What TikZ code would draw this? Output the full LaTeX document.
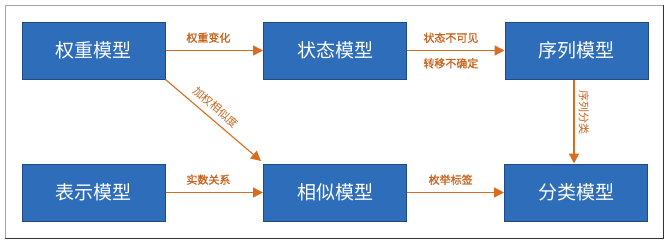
\documentclass[tikz,border=0pt]{standalone}
\usepackage{fontspec}
\newfontfamily\cjk{Noto Sans CJK SC}
\newfontfamily\cjklab[FakeBold=1.2]{Noto Sans CJK SC}
\usetikzlibrary{arrows.meta}
\definecolor{boxfill}{HTML}{2E6DB9}
\definecolor{boxline}{HTML}{1F4A86}
\definecolor{arr}{HTML}{DA6C20}
\definecolor{lab}{HTML}{C8641F}
\tikzset{
  model/.style={draw=boxline, line width=1pt, fill=boxfill, minimum width=143pt, minimum height=57pt, inner sep=0pt, text=white, font=\cjk\fontsize{19}{19}\selectfont},
  conn/.style={draw=arr, line width=1.4pt, -{Triangle[length=10pt,width=10pt]}},
  lbl/.style={text=lab, font=\cjklab\fontsize{11}{11}\selectfont, inner sep=0pt},
  rlbl/.style={text=lab, font=\cjk\fontsize{11}{11}\selectfont, inner sep=0pt}
}
\begin{document}
\begin{tikzpicture}[x=1pt,y=-1pt]
\useasboundingbox (0,0) rectangle (671,244);
\draw[gray!70, line width=1pt] (5,5) rectangle (663,238);
\draw[black!80, line width=1pt] (5,238) -- (663,238) -- (663,5);
\node[model] (w) at (93.5,50.5) {权重模型};
\node[model] (s) at (335,50.5) {状态模型};
\node[model] (q) at (576.5,50.5) {序列模型};
\node[model] (r) at (93.5,192.5) {表示模型};
\node[model] (x) at (335,192.5) {相似模型};
\node[model] (c) at (576,192.5) {分类模型};
\coordinate (dtip) at (261,161);
\draw[conn] (w) -- node[lbl, pos=0.44, above=7pt] {权重变化} (s);
\draw[conn] (s) -- node[lbl, pos=0.45, above=7pt] {状态不可见} node[lbl, pos=0.45, below=7pt] {转移不确定} (q);
\draw[conn] (r) -- node[lbl, pos=0.44, above=7pt] {实数关系} (x);
\draw[conn] (x) -- node[lbl, pos=0.45, above=7pt] {枚举标签} (c);
\draw[conn] (q.south -| 574,0) -- node[rlbl, sloped, above=4pt, pos=0.39] {序列分类} (c.north -| 574,0);
\draw[conn, line width=1.1pt] (w.south east) -- node[rlbl, sloped, above=6pt, pos=0.45] {加权相似度} (dtip);
\end{tikzpicture}
\end{document}
